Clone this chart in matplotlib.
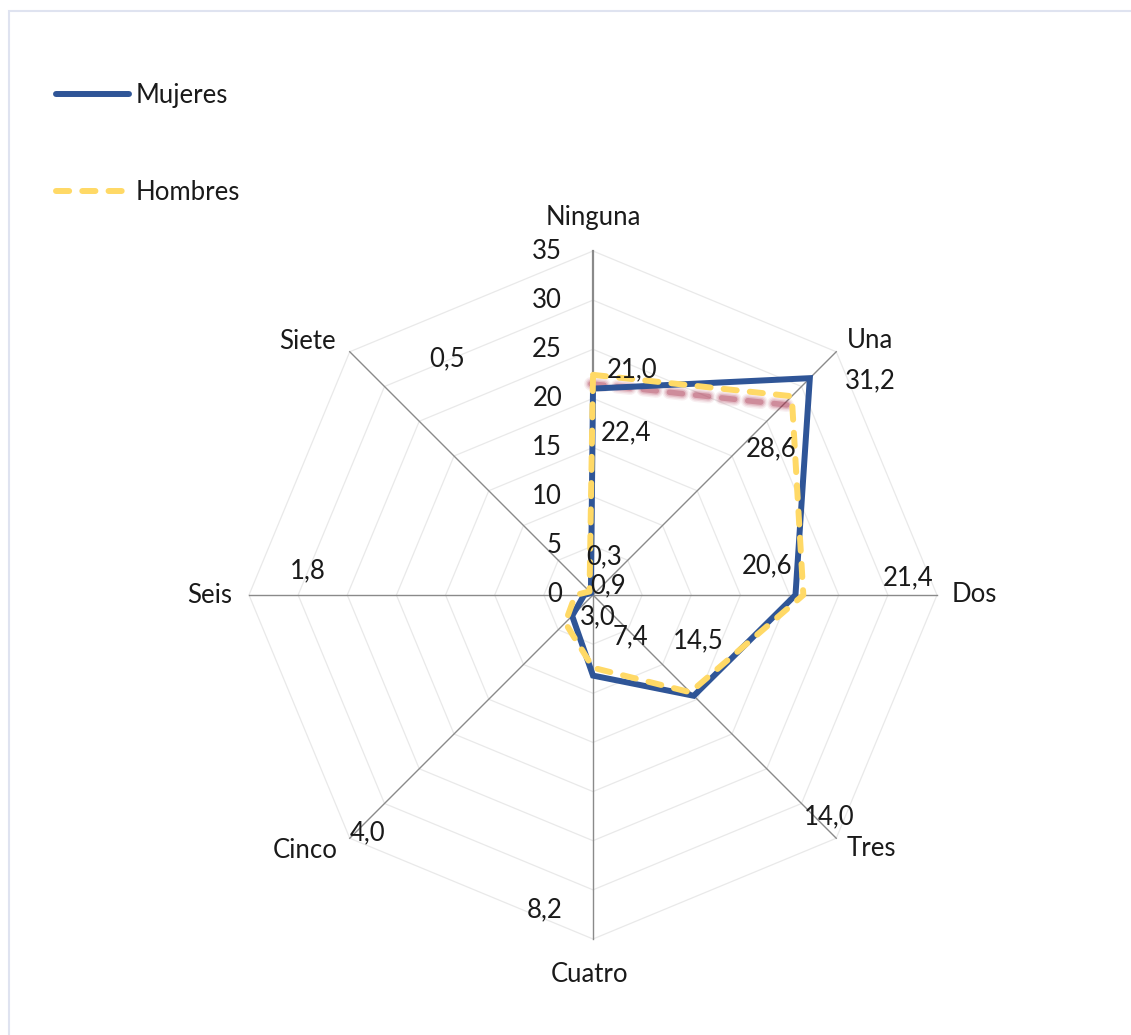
import numpy as np
import matplotlib
matplotlib.use('Agg')
import matplotlib.pyplot as plt
import matplotlib.patches as mpatches
import matplotlib.transforms as mtransforms

# categories (clockwise from the top)
categories = ['Ninguna', 'Una', 'Dos', 'Tres', 'Cuatro', 'Cinco', 'Seis', 'Siete']
mujeres = [21.0, 31.2, 20.6, 14.5, 8.2, 3.0, 0.9, 0.3]
hombres = [22.4, 28.6, 21.4, 14.0, 7.4, 4.0, 1.8, 0.5]
r_ticks = [0, 5, 10, 15, 20, 25, 30, 35]

# where Excel left the data labels (pixel offsets from each point)
off_muj = [(39, 19), (60, -3), (-28, 29), (4, 55), (-48, -234), (26, -1), (24, 9), (13, 36)]
off_hom = [(33, -58), (-21, -53), (105, 17), (139, -125), (37, 31), (-198, -210), (-268, 24), (-142, 233)]
# category label offsets from the spoke ends
off_cat = [(0, 34), (34, 11), (37, 0), (35, -10), (-4, -36), (-45, -12), (-39, 0), (-42, 10)]

blue = '#2F5597'
yellow = '#FFD966'
font = dict(family=['Lato', 'DejaVu Sans'], fontweight='normal', color='#1a1a1a')
fs = 18.5

W, H = 1131, 1035
fig = plt.figure(figsize=(W / 100, H / 100), dpi=100)

cx, cy, R = 593, 595, 344
ax = fig.add_axes([(cx - R) / W, 1 - (cy + R) / H, 2 * R / W, 2 * R / H], projection='polar')
ax.set_theta_offset(np.pi / 2)
ax.set_theta_direction(-1)
ax.set_ylim(0, 35)
ax.grid(False)
ax.set_xticks([])
ax.set_yticks([])
ax.spines['polar'].set_visible(False)
ax.patch.set_alpha(0)

n = len(categories)
angles = np.arange(n) * 2 * np.pi / n
closed = np.append(angles, angles[0])

# octagon grid
for r in r_ticks[1:]:
    ax.plot(closed, [r] * (n + 1), color='#e9e9e9', lw=0.9, clip_on=False, zorder=1)
# spokes
for i, a in enumerate(angles):
    ax.plot([a, a], [0, 35], color='#8a8a8a', lw=1.6 if i == 0 else 1.0, clip_on=False, zorder=2)

# radial tick labels
for r in r_ticks:
    ax.annotate(str(r), xy=(0, r), xytext=(-31, 0), textcoords='offset pixels',
                ha='right', va='center', fontsize=fs, annotation_clip=False, **font)

# category labels
for a, name, (dx, dy) in zip(angles, categories, off_cat):
    ax.annotate(name, xy=(a, 35), xytext=(dx, dy), textcoords='offset pixels',
                ha='center', va='center', fontsize=fs, annotation_clip=False, **font)

# blurred shadow under the first Hombres segment
shadow_tr = mtransforms.offset_copy(ax.transData, fig=fig, x=-2, y=-9, units='dots')
for lw, al in [(10, 0.07), (8, 0.1), (6, 0.16), (4, 0.3)]:
    ax.plot(angles[:2], hombres[:2], color='#a3203f', lw=lw, alpha=al,
            dashes=(2.2 * 4.3 / lw, 2.2 * 4.3 / lw), dash_capstyle='round',
            transform=shadow_tr, clip_on=False, zorder=3)

ax.plot(closed, mujeres + mujeres[:1], color=blue, lw=4.3, solid_joinstyle='miter',
        solid_capstyle='round', clip_on=False, zorder=4, label='Mujeres')
ax.plot(closed, hombres + hombres[:1], color=yellow, lw=4.3, dashes=(2.2, 2.2),
        dash_capstyle='round', clip_on=False, zorder=5, label='Hombres')

# data labels
for vals, offs in [(mujeres, off_muj), (hombres, off_hom)]:
    for a, v, (dx, dy) in zip(angles, vals, offs):
        ax.annotate(f'{v:.1f}'.replace('.', ','), xy=(a, v), xytext=(dx, dy),
                    textcoords='offset pixels', ha='center', va='center',
                    fontsize=fs, annotation_clip=False, zorder=6, **font)

leg = fig.legend(loc='upper left', bbox_to_anchor=(56 / W, 1 - 83 / H), frameon=False,
                 borderpad=0, borderaxespad=0,
                 handlelength=2.85, handletextpad=0.23, labelspacing=2.8,
                 prop=dict(family=['Lato', 'DejaVu Sans'], weight='normal', size=fs))
for t in leg.get_texts():
    t.set_color('#1a1a1a')

# chart area border
fig.patches.append(mpatches.Rectangle((8.5 / W, -0.1), 1.2, 1.1 - 11 / H, transform=fig.transFigure,
                                      fill=False, edgecolor='#dfe3f0', lw=1.5))

fig.savefig('out.png', dpi=100)
